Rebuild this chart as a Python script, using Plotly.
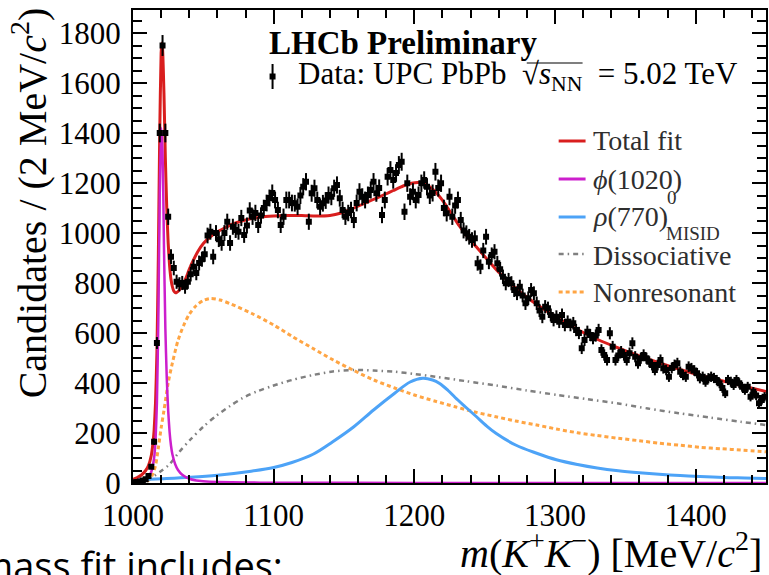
import numpy as np
import plotly.graph_objects as go

# ---------------- data ----------------
BIN_LO, BIN_HI, BIN_W = 1000, 1450, 2
counts = [
    3, 4, 6, 10, 15, 28, 65, 165, 560, 1400,
    1750, 1400, 1065, 905, 860, 805, 795, 800, 785, 805,
    835, 865, 840, 880, 895, 915, 990, 1005, 905, 1000,
    975, 960, 1000, 1045, 960, 1025, 1012, 1005, 1060, 992,
    1030, 1090, 1065, 1080, 1032, 1070, 1100, 1120, 1140, 1160,
    1132, 1092, 1032, 1065, 1132, 1132, 1120, 1119, 1105, 1150,
    1185, 1205, 1045, 1159, 1179, 1132, 1105, 1119, 1130, 1152,
    1145, 1179, 1192, 1139, 1092, 1065, 1080, 1092, 1052, 1120,
    1165, 1145, 1132, 1152, 1172, 1205, 1159, 1180, 1072, 1132,
    1225, 1252, 1212, 1240, 1272, 1285, 1085, 1199, 1145, 1165,
    1132, 1152, 1199, 1212, 1185, 1150, 1160, 1245, 1180, 1199,
    1100, 1079, 1145, 1065, 1110, 1132, 1052, 1010, 999, 985,
    972, 979, 879, 865, 930, 985, 885, 912, 925, 879,
    855, 825, 799, 812, 799, 772, 759, 785, 750, 719,
    739, 772, 759, 719, 690, 665, 705, 699, 672, 652,
    665, 645, 672, 632, 645, 632, 639, 612, 600, 539,
    572, 605, 592, 579, 590, 612, 532, 512, 492, 599,
    545, 492, 510, 525, 512, 492, 519, 559, 505, 479,
    499, 512, 499, 485, 472, 452, 472, 492, 459, 452,
    425, 460, 472, 479, 445, 432, 425, 465, 459, 450,
    439, 419, 425, 405, 419, 425, 420, 412, 399, 380,
    359, 412, 405, 392, 412, 399, 385, 372, 385, 345,
    365, 350, 319, 332, 345,
]
centers = np.arange(BIN_LO + BIN_W / 2, BIN_HI, BIN_W)
assert len(centers) == len(counts)
errors = np.sqrt(np.array(counts, dtype=float))

fit_x = [1000, 1003, 1006, 1009, 1011, 1013, 1014, 1015, 1016, 1017, 1018, 1019, 1020,
         1020.5, 1021, 1022, 1023, 1024, 1025, 1026, 1027, 1028, 1029, 1030, 1031, 1032,
         1034, 1036, 1038, 1040, 1043, 1046, 1050, 1055, 1060, 1065, 1070, 1080, 1090,
         1100, 1110, 1120, 1130, 1140, 1148, 1155, 1162, 1170, 1178, 1185, 1192, 1198,
         1203, 1207, 1212, 1217, 1222, 1227, 1232, 1238, 1244, 1252, 1260, 1270, 1280,
         1290, 1300, 1315, 1330, 1345, 1360, 1375, 1390, 1405, 1420, 1435, 1450]
fit_y = [15, 22, 32, 50, 70, 110, 150, 210, 320, 520, 900, 1400, 1720,
         1760, 1740, 1560, 1300, 1100, 960, 870, 815, 785, 768, 762, 762, 766,
         780, 800, 825, 855, 892, 925, 958, 985, 1005, 1020, 1034, 1052, 1063,
         1068, 1070, 1070, 1068, 1070, 1080, 1095, 1112, 1132, 1152, 1170, 1188, 1199,
         1202, 1198, 1180, 1152, 1115, 1072, 1028, 983, 945, 893, 843, 790, 743,
         703, 667, 617, 575, 540, 508, 479, 452, 428, 407, 386, 366]

phi_x = [1000, 1005, 1008, 1011, 1013, 1015, 1016, 1017, 1018, 1019, 1020, 1021, 1022,
         1023, 1024, 1025, 1026, 1027, 1028, 1030, 1032, 1035, 1040, 1045, 1050, 1060,
         1080, 1100, 1200, 1450]
phi_y = [3, 6, 12, 25, 45, 100, 170, 320, 650, 1150, 1420, 1330, 950,
         620, 420, 290, 205, 150, 115, 75, 52, 33, 17, 10, 7, 4,
         2, 1, 0.5, 0]

rho_x = [1000, 1020, 1041, 1060, 1084, 1100, 1113, 1128, 1142, 1157, 1171, 1186, 1197,
         1206, 1213, 1218, 1224, 1229, 1236, 1244, 1251, 1258, 1272, 1287, 1301, 1316,
         1330, 1345, 1360, 1374, 1389, 1403, 1420, 1435, 1450]
rho_y = [12, 17, 23, 31, 47, 62, 82, 115, 165, 225, 292, 359, 404,
         419, 412, 398, 370, 342, 306, 266, 230, 199, 152, 119, 93, 74,
         60, 49, 41, 35, 30, 26, 22, 20, 18]

diss_x = [1000, 1005, 1010, 1015, 1020, 1026, 1033, 1041, 1050, 1059, 1069, 1078, 1088,
          1099, 1113, 1128, 1142, 1157, 1171, 1186, 1200, 1215, 1236, 1258, 1280, 1302,
          1323, 1345, 1366, 1388, 1410, 1432, 1450]
diss_y = [0, 3, 12, 28, 48, 75, 125, 175, 225, 268, 308, 340, 366,
          388, 412, 432, 446, 452, 450, 445, 436, 425, 408, 390, 370, 352,
          335, 318, 298, 279, 262, 245, 232]

nonres_x = [1000, 1008, 1012, 1014, 1016, 1018, 1020, 1022, 1025, 1028, 1032, 1036, 1040,
            1045, 1050, 1055, 1062, 1070, 1084.5, 1100, 1113.5, 1128, 1142.4, 1157, 1171.3,
            1186, 1200, 1215, 1229, 1243, 1258, 1272, 1287, 1301, 1316, 1330, 1345, 1360,
            1374, 1389, 1403, 1418, 1432, 1450]
nonres_y = [0, 3, 15, 35, 70, 140, 220, 290, 400, 480, 570, 630, 675,
            710, 730, 738, 732, 715, 678, 632, 585, 538, 492, 450, 412,
            380, 352, 327, 305, 284, 265, 248, 232, 216, 201, 190, 179, 169,
            159, 151, 143, 137, 132, 125]

x_ticks = [1000, 1100, 1200, 1300, 1400]
y_ticks = [0, 200, 400, 600, 800, 1000, 1200, 1400, 1600, 1800]

# ---------------- styling ----------------
W, H = 769, 575
L, R, T, B = 133, 1, 10, 92
PW, PH = W - L - R, H - T - B
SERIF = "Liberation Serif, Times New Roman, serif"

RED = "#d91e1e"
MAG = "#cc1fcc"
BLUE = "#4da3f7"
GRAY = "#808080"
ORANGE = "#ffa544"
DISS_DASH = "5px,4px,1.5px,4px"
NONRES_DASH = "4px,3px"


def px(xp):
    return (xp - L) / PW


def py(yp):
    return (H - B - yp) / PH


fig = go.Figure()

fig.add_trace(go.Scatter(x=nonres_x, y=nonres_y, mode="lines", name="Nonresonant",
                         line=dict(color=ORANGE, width=3, dash=NONRES_DASH, shape="spline", smoothing=0.8)))
fig.add_trace(go.Scatter(x=diss_x, y=diss_y, mode="lines", name="Dissociative",
                         line=dict(color=GRAY, width=2.5, dash=DISS_DASH, shape="spline", smoothing=0.8)))
fig.add_trace(go.Scatter(x=rho_x, y=rho_y, mode="lines", name="rho MISID",
                         line=dict(color=BLUE, width=3, shape="spline", smoothing=1.0)))
fig.add_trace(go.Scatter(x=fit_x, y=fit_y, mode="lines", name="Total fit",
                         line=dict(color=RED, width=3, shape="spline", smoothing=0.5)))
fig.add_trace(go.Scatter(x=phi_x, y=phi_y, mode="lines", name="phi(1020)",
                         line=dict(color=MAG, width=2.5, shape="spline", smoothing=0.5)))
fig.add_trace(go.Scatter(x=centers, y=counts, mode="markers", name="Data",
                         marker=dict(symbol="square", size=6, color="black"),
                         error_y=dict(type="data", array=errors, color="black", thickness=2, width=0)))

axis_common = dict(
    showline=True, linewidth=2, linecolor="black", mirror="ticks",
    ticks="inside", ticklen=14, tickwidth=2, tickcolor="black",
    showgrid=False, zeroline=False,
    tickfont=dict(family=SERIF, size=31, color="black"),
)

fig.update_layout(
    width=W, height=H,
    margin=dict(l=L, r=R, t=T, b=B, pad=0),
    paper_bgcolor="white", plot_bgcolor="white",
    showlegend=False,
    xaxis=dict(range=[1000, 1450], tickvals=x_ticks, ticklabelstandoff=4,
               minor=dict(dtick=20, tick0=1000, ticklen=8, tickwidth=2, ticks="inside", tickcolor="black"),
               **axis_common),
    yaxis=dict(range=[0, 1892], tickvals=y_ticks, ticklabelstandoff=4,
               minor=dict(dtick=50, tick0=0, ticklen=9, tickwidth=2, ticks="inside", tickcolor="black"),
               **axis_common),
)

ann = []


def text(x, y, s, size, xanchor="left", yanchor="middle", color="black", family=SERIF, angle=0):
    ann.append(dict(x=px(x), y=py(y), xref="paper", yref="paper", text=s, showarrow=False,
                    xanchor=xanchor, yanchor=yanchor, textangle=angle,
                    font=dict(family=family, size=size, color=color)))


text(30, 203, "Candidates / (2 MeV/<i>c</i><sup>2</sup>)", 40, xanchor="center", angle=-90)
text(766, 550, "<i>m</i>(<i>K</i><sup>+</sup><i>K</i><sup>\u2212</sup>) [MeV/<i>c</i><sup>2</sup>]", 40,
     xanchor="right")
text(267, 43, "<b>LHCb Preliminary</b>", 33)
text(297, 76, "Data: UPC PbPb \u00a0\u221a<i>s</i><sub>NN</sub>\u00a0 = 5.02 TeV", 31)

LEG_TXT = "#2e2e2e"
text(592, 140, "Total fit", 28, color=LEG_TXT)
text(592, 179, "<i>\u03d5</i>(1020)", 28, color=LEG_TXT)
text(592, 217, "<i>\u03c1</i>(770)", 28, color=LEG_TXT)
text(667, 198, "0", 19, color=LEG_TXT)
text(666, 233, "MISID", 19, color=LEG_TXT)
text(592, 255, "Dissociative", 28, color=LEG_TXT)
text(592, 292, "Nonresonant", 28, color=LEG_TXT)

text(-24, 537, "mass fit includes:", 38, yanchor="top", family="Open Sans, Noto Sans, sans-serif")

fig.update_layout(annotations=ann)

shapes = []
for yk, col, dash, wd in [(141, RED, "solid", 3), (179, MAG, "solid", 3), (217, BLUE, "solid", 3),
                          (254, GRAY, DISS_DASH, 2.5), (292, ORANGE, NONRES_DASH, 3)]:
    shapes.append(dict(type="line", xref="paper", yref="paper", x0=px(560), x1=px(587),
                       y0=py(yk), y1=py(yk), line=dict(color=col, width=wd, dash=dash)))
# data legend key: marker with error bar
shapes.append(dict(type="line", xref="paper", yref="paper", x0=px(273), x1=px(273),
                   y0=py(64), y1=py(89), line=dict(color="black", width=2)))
shapes.append(dict(type="rect", xref="paper", yref="paper", x0=px(270), x1=px(276),
                   y0=py(73.5), y1=py(79.5), line=dict(color="black", width=0), fillcolor="black"))
# overbar of the square root
shapes.append(dict(type="line", xref="paper", yref="paper", x0=px(528), x1=px(584),
                   y0=py(63), y1=py(63), line=dict(color="black", width=1.2)))
fig.update_layout(shapes=shapes)

fig.write_html("out.html",
               config={"displayModeBar": False},
               post_script="document.body.style.margin='0';document.body.style.padding='0';"
                           "document.body.style.overflow='hidden';")
